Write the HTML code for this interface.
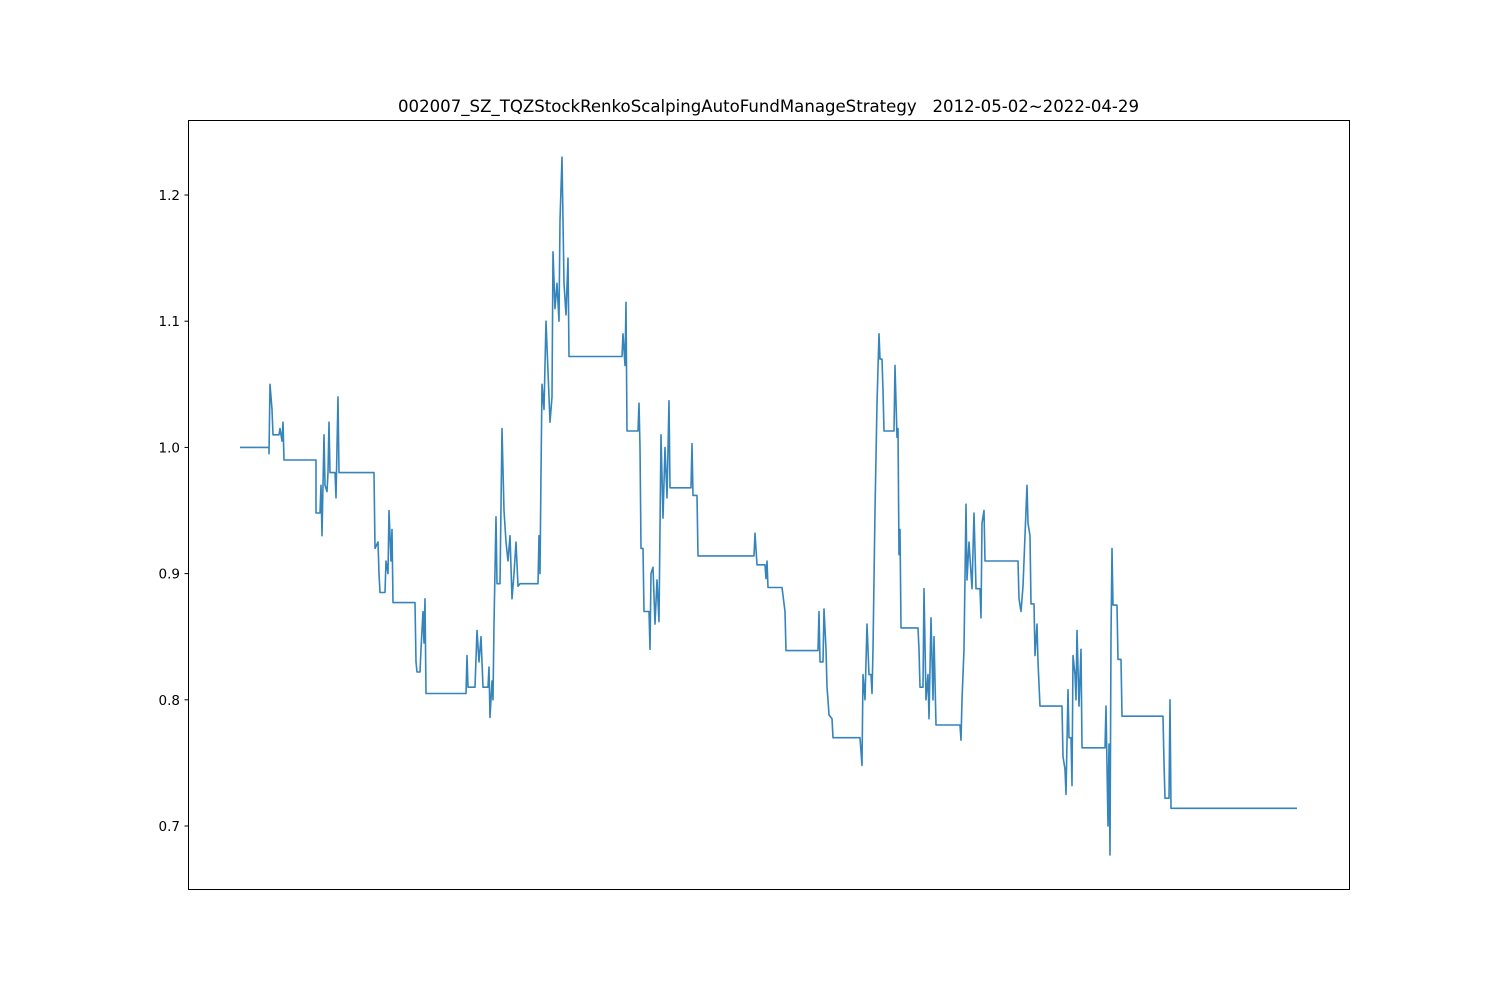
<!DOCTYPE html>
<html><head><meta charset="utf-8"><style>
html,body{margin:0;padding:0;background:#fff;width:1500px;height:1000px;overflow:hidden}
text{font-family:"DejaVu Sans","Liberation Sans",sans-serif}
</style></head><body>
<svg id="chart" width="1500" height="1000">
<rect width="1500" height="1000" fill="#fff"/>
<text x="768.5" y="112" font-size="16.6" text-anchor="middle" textLength="741" lengthAdjust="spacingAndGlyphs" style="white-space:pre" xml:space="preserve">002007_SZ_TQZStockRenkoScalpingAutoFundManageStrategy   2012-05-02~2022-04-29</text>
<g id="yticks"></g>
<path id="line" fill="none" stroke="#1f77b4" stroke-width="1.6" stroke-linejoin="round" opacity="0.9"/>
<rect x="188.5" y="120.5" width="1161" height="769" fill="none" stroke="#000" stroke-width="1"/>
</svg>
<script>
const yTickValues=[0.7,0.8,0.9,1.0,1.1,1.2];
const yTickLabels=["0.7","0.8","0.9","1.0","1.1","1.2"];
const days=[0,29,29,30,32,33,39,40,42,43,44,76,76,80,81,82,84,85,87,88,89,90,95,96,98,99,134,135,138,139,140,145,146,148,149,151,152,153,175,176,177,180,181,183,184,185,186,226,227,228,235,237,239,241,243,248,249,250,252,253,254,256,257,260,262,264,266,268,270,272,274,276,278,280,298,299,300,301,302,304,306,308,310,312,313,315,317,319,320,322,324,326,328,329,382,383,385,386,387,398,399,400,401,403,404,409,410,411,413,415,417,419,421,423,425,427,429,430,451,452,453,457,458,514,515,517,525,526,527,528,542,545,546,578,579,580,583,584,586,587,588,589,592,593,620,622,623,625,627,629,631,632,633,635,637,639,640,642,643,644,654,655,657,658,659,660,661,678,679,680,683,684,686,688,689,691,693,694,696,720,721,722,724,726,727,729,731,732,734,736,740,741,742,744,745,778,779,781,783,785,787,788,790,791,794,795,797,798,800,822,823,825,826,828,829,831,832,833,835,836,837,839,841,842,865,866,868,869,870,871,872,873,877,878,881,882,923,924,925,929,930,931,1057];
const values=[1.0,1.0,0.995,1.05,1.03,1.01,1.01,1.015,1.005,1.02,0.99,0.99,0.948,0.948,0.97,0.93,1.01,0.97,0.965,0.98,1.02,0.98,0.98,0.96,1.04,0.98,0.98,0.92,0.925,0.9,0.885,0.885,0.91,0.9,0.95,0.91,0.935,0.877,0.877,0.83,0.822,0.822,0.84,0.87,0.845,0.88,0.805,0.805,0.835,0.81,0.81,0.855,0.83,0.85,0.81,0.81,0.826,0.786,0.815,0.8,0.86,0.945,0.892,0.892,1.015,0.95,0.925,0.91,0.93,0.88,0.9,0.925,0.89,0.892,0.892,0.93,0.9,0.98,1.05,1.03,1.1,1.06,1.02,1.04,1.155,1.11,1.13,1.1,1.18,1.23,1.13,1.105,1.15,1.072,1.072,1.09,1.065,1.115,1.013,1.013,1.035,1.0,0.92,0.92,0.87,0.87,0.84,0.9,0.905,0.86,0.895,0.862,1.01,0.944,1.0,0.96,1.037,0.968,0.968,1.003,0.962,0.962,0.914,0.914,0.932,0.907,0.907,0.896,0.91,0.889,0.889,0.87,0.839,0.839,0.87,0.83,0.83,0.872,0.84,0.81,0.8,0.788,0.785,0.77,0.77,0.748,0.82,0.8,0.86,0.82,0.82,0.805,0.84,0.95,1.035,1.09,1.07,1.07,1.045,1.013,1.013,1.065,1.008,1.015,0.915,0.935,0.857,0.857,0.84,0.81,0.81,0.888,0.8,0.82,0.785,0.865,0.8,0.85,0.78,0.78,0.768,0.8,0.84,0.955,0.895,0.925,0.9,0.888,0.948,0.888,0.888,0.865,0.94,0.95,0.91,0.91,0.88,0.87,0.89,0.93,0.97,0.94,0.93,0.876,0.876,0.835,0.86,0.83,0.795,0.795,0.755,0.745,0.725,0.808,0.77,0.77,0.732,0.835,0.82,0.8,0.855,0.795,0.84,0.762,0.762,0.795,0.7,0.765,0.677,0.85,0.92,0.875,0.875,0.832,0.832,0.787,0.787,0.75,0.722,0.722,0.8,0.714,0.714];
const X0=240,X1=1297,Y07=826,PX=1262;
const xScale=d=>X0+(d-days[0])/(days[days.length-1]-days[0])*(X1-X0);
const yScale=v=>Y07-(v-0.7)*PX;
const ns="http://www.w3.org/2000/svg";
const yg=document.getElementById('yticks');
yTickValues.forEach((v,i)=>{
  const y=yScale(v);
  const t=document.createElementNS(ns,'line');
  t.setAttribute('x1',184.5);t.setAttribute('x2',188.5);t.setAttribute('y1',y);t.setAttribute('y2',y);t.setAttribute('stroke','#000');
  
  
  yg.appendChild(t);
  const l=document.createElementNS(ns,'text');
  l.setAttribute('x',180);l.setAttribute('y',y+5);l.setAttribute('text-anchor','end');l.setAttribute('font-size','13.5');
  l.textContent=yTickLabels[i];
  
  
  yg.appendChild(l);
});
let d='';
days.forEach((x,i)=>{d+=(i?'L':'M')+xScale(x).toFixed(1)+','+yScale(values[i]).toFixed(1);});
document.getElementById('line').setAttribute('d',d);
</script>
</body></html>
